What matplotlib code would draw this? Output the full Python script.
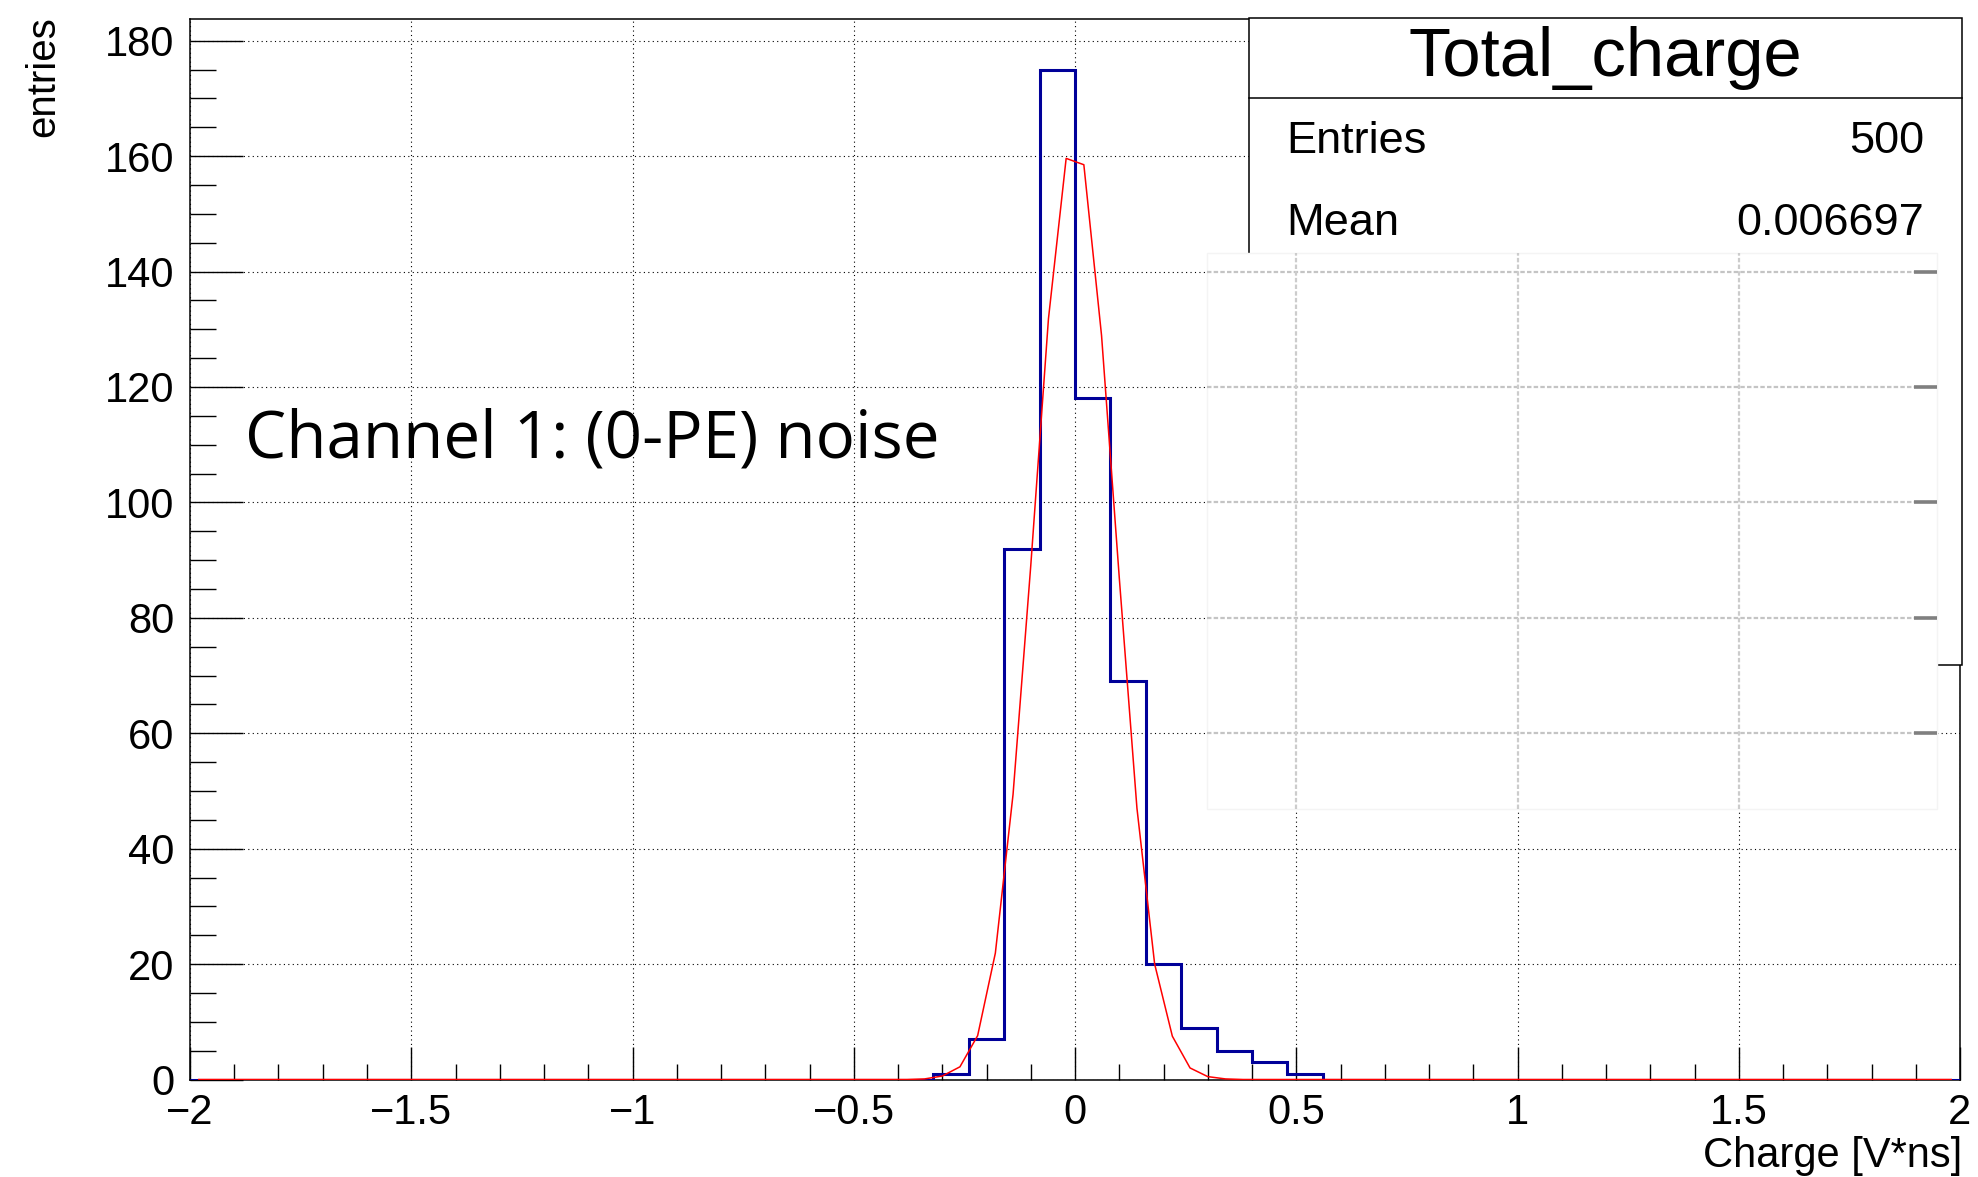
import numpy as np
import matplotlib
matplotlib.use("Agg")
import matplotlib.pyplot as plt
from matplotlib.ticker import MultipleLocator, FixedLocator, FixedFormatter
from matplotlib.patches import Rectangle
from matplotlib.lines import Line2D

plt.rcParams['font.family'] = ['Liberation Sans', 'DejaVu Sans']

# ---------------- data ----------------
x_min, x_max, n_bins = -2.0, 2.0, 50
hist_counts = ([0] * 21 +
               [1, 7, 92, 175, 118, 69, 20, 9, 5, 3, 1] +
               [0] * 18)
fit_y = ([0] * 41 +
         [0.1, 0.6, 2.2, 7.6, 21.9, 49.4, 89, 131.8, 159.6,
          158.5, 128.9, 87, 47, 20, 7.5, 2.0, 0.5, 0.1] +
         [0] * 41)
xtick_vals = [-2, -1.5, -1, -0.5, 0, 0.5, 1, 1.5, 2]
xtick_labels = ['\u22122', '\u22121.5', '\u22121', '\u22120.5', '0', '0.5', '1', '1.5', '2']
ytick_vals = [0, 20, 40, 60, 80, 100, 120, 140, 160, 180]
stats_title = 'Total_charge'
stats_rows = [('Entries', '500'), ('Mean', '0.006697')]
x_label = 'Charge [V*ns]'
y_label = 'entries'
note = 'Channel 1: (0-PE) noise'

edges = np.linspace(x_min, x_max, n_bins + 1)
fit_x = np.linspace(x_min, x_max, 101)[:-1] + (x_max - x_min) / 200.0

# ---------------- figure ----------------
W, H = 1978, 1177
fig = plt.figure(figsize=(W / 100, H / 100), dpi=100)
fig.patch.set_facecolor('white')

def fx(px):
    return px / W

def fy(py):
    return 1 - py / H

ax_l, ax_r, ax_t, ax_b = 190, 1960, 19, 1079.5
ax = fig.add_axes([fx(ax_l), fy(ax_b), fx(ax_r - ax_l), (ax_b - ax_t) / H])

ax.stairs(hist_counts, edges, color='#000099', lw=2.2, baseline=None, zorder=3)
ax.plot(fit_x, fit_y, color='red', lw=1.1, zorder=4)

ax.set_xlim(x_min, x_max)
ax.set_ylim(0, 183.75)

ax.xaxis.set_major_locator(FixedLocator(xtick_vals))
ax.xaxis.set_major_formatter(FixedFormatter(xtick_labels))
ax.xaxis.set_minor_locator(MultipleLocator(0.1))
ax.yaxis.set_major_locator(FixedLocator(ytick_vals))
ax.yaxis.set_minor_locator(MultipleLocator(5))

ax.tick_params(axis='both', which='both', direction='in', width=1.0, color='black',
               labelsize=30, top=False, right=False)
ax.tick_params(axis='x', which='major', length=24, pad=10)
ax.tick_params(axis='x', which='minor', length=11.5)
ax.tick_params(axis='y', which='major', length=38, pad=11)
ax.tick_params(axis='y', which='minor', length=18.5)

ax.grid(which='major', color='black', linestyle=(0, (1, 3)), lw=0.8, zorder=1)
ax.set_axisbelow(True)
for s in ax.spines.values():
    s.set_linewidth(1.1)

# axis titles (ROOT style: right / top aligned)
fig.text(fx(1962), fy(1167), x_label, ha='right', va='baseline', fontsize=30)
fig.text(fx(43), fy(16), y_label, rotation=90, ha='center', va='top', fontsize=29)

# ---------------- stats box ----------------
bx0, bx1, by0, by1, bsep = 1249, 1962, 18, 665, 98
box = Rectangle((fx(bx0), fy(by1)), fx(bx1 - bx0), (by1 - by0) / H,
                transform=fig.transFigure, facecolor='white', edgecolor='black',
                lw=1.1, zorder=10, clip_on=False)
ax.add_artist(box)
sep = Line2D([fx(bx0), fx(bx1)], [fy(bsep), fy(bsep)], transform=fig.transFigure,
             color='black', lw=1.1, zorder=11, clip_on=False)
ax.add_artist(sep)
ax.text(fx(1605), fy(76), stats_title, transform=fig.transFigure, ha='center',
        va='baseline', fontsize=49.5, zorder=12, clip_on=False)
for (lab, val), base in zip(stats_rows, [153, 235]):
    ax.text(fx(1286), fy(base), lab, transform=fig.transFigure, ha='left',
            va='baseline', fontsize=32.5, zorder=12, clip_on=False)
    ax.text(fx(1924), fy(base), val, transform=fig.transFigure, ha='right',
            va='baseline', fontsize=32.5, zorder=12, clip_on=False)

# ---------------- pasted overlay patch (faded grid) ----------------
ov_x0, ov_x1, ov_y0, ov_y1 = 0.298, 1.948, 46.8, 143.2
ov = Rectangle((ov_x0, ov_y0), ov_x1 - ov_x0, ov_y1 - ov_y0, facecolor='white',
               edgecolor='#f4f4f4', lw=1.0, zorder=20, clip_on=False)
ax.add_patch(ov)
for yv in [60, 80, 100, 120, 140]:
    ax.plot([ov_x0, ov_x1], [yv, yv], color='#c4c4c4', lw=1.6,
            linestyle=(0, (2, 1)), zorder=21, clip_on=False)
    ax.plot([1.895, ov_x1], [yv, yv], color='#808080', lw=2.6, zorder=22,
            clip_on=False, solid_capstyle='butt')
for xv in [0.5, 1.0, 1.5]:
    ax.plot([xv, xv], [ov_y0, ov_y1], color='#cccccc', lw=1.6,
            linestyle=(0, (2, 1)), zorder=21, clip_on=False)

# ---------------- annotation ----------------
t = fig.text(fx(245), fy(457), note, fontsize=50, ha='left', va='baseline',
             family=['Open Sans', 'DejaVu Sans'], zorder=30)
fig.canvas.draw()
w = t.get_window_extent().width
t.set_fontsize(50 * 695 / w)

fig.savefig('out.png', dpi=100, facecolor='white')
